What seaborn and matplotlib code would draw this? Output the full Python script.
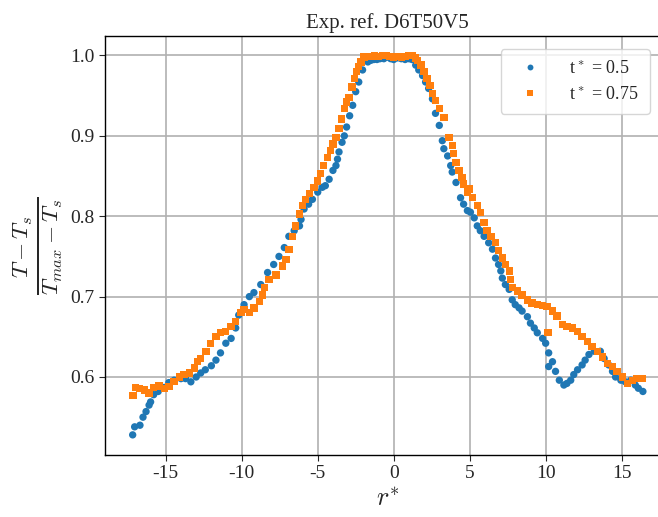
import numpy as np
import pandas as pd
import matplotlib
matplotlib.use("Agg")
import matplotlib.pyplot as plt
import seaborn as sns

# t* = 0.5 (blue circles)
r_05 = [-17.18, -17.05, -16.7, -16.5, -16.3, -16.1, -16.0, -15.8, -15.5, -15.1, -14.8, -14.45,
        -14.0, -13.7, -13.35, -13.0, -12.7, -12.4, -12.0, -11.7, -11.4, -11.05, -10.7, -10.4,
        -10.2, -9.85, -9.5, -9.2, -8.75, -8.3, -7.9, -7.55, -7.2, -6.9, -6.55, -6.2, -6.1,
        -5.9, -5.6, -5.35, -5.0, -4.7, -4.5, -4.25, -4.0, -3.8, -3.7, -3.6, -3.4, -3.25,
        -3.1, -2.9, -2.7, -2.5, -2.3, -2.05, -1.7, -1.5, -1.3, -1.1, -0.9, -0.65, -0.4,
        -0.2, 0.0, 0.25, 0.5, 0.75, 1.0, 1.2, 1.45, 1.65, 1.9, 2.1, 2.3, 2.55, 2.75, 3.0,
        3.2, 3.3, 3.55, 3.75, 3.85, 4.1, 4.4, 4.6, 4.85, 5.05, 5.3, 5.5, 5.7, 5.95, 6.25,
        6.5, 6.7, 6.9, 7.05, 7.15, 7.35, 7.6, 7.8, 8.0, 8.25, 8.45, 8.8, 9.0, 9.25, 9.45,
        9.8, 10.0, 10.2, 10.45, 10.2, 10.65, 10.9, 11.2, 11.4, 11.65, 11.85, 12.1, 12.4,
        12.6, 12.85, 13.2, 13.6, 13.85, 14.15, 14.4, 14.6, 14.95, 15.25, 15.6, 15.9, 16.1, 16.4]
v_05 = [0.528, 0.538, 0.540, 0.550, 0.557, 0.565, 0.569, 0.578, 0.582, 0.587, 0.593, 0.596,
        0.598, 0.598, 0.594, 0.600, 0.605, 0.609, 0.614, 0.621, 0.630, 0.642, 0.648, 0.661,
        0.677, 0.690, 0.700, 0.705, 0.715, 0.730, 0.740, 0.750, 0.761, 0.775, 0.782, 0.788, 0.796,
        0.809, 0.815, 0.821, 0.830, 0.836, 0.838, 0.846, 0.857, 0.863, 0.871, 0.880, 0.892, 0.900,
        0.911, 0.925, 0.938, 0.955, 0.967, 0.982, 0.992, 0.994, 0.995, 0.995, 0.996, 0.996, 0.998,
        0.996, 0.995, 0.997, 0.996, 0.995, 0.996, 0.995, 0.988, 0.982, 0.975, 0.967, 0.959, 0.946, 0.928, 0.913,
        0.894, 0.884, 0.875, 0.863, 0.855, 0.842, 0.823, 0.815, 0.807, 0.805, 0.798, 0.788, 0.782, 0.775, 0.767,
        0.759, 0.748, 0.740, 0.732, 0.723, 0.715, 0.709, 0.696, 0.690, 0.686, 0.682, 0.675, 0.667, 0.661, 0.655,
        0.648, 0.642, 0.630, 0.619, 0.613, 0.607, 0.596, 0.590, 0.592, 0.596, 0.603, 0.609, 0.615,
        0.621, 0.628, 0.632, 0.632, 0.623, 0.615, 0.607, 0.600, 0.596, 0.594, 0.596, 0.590, 0.586, 0.582]

# t* = 0.75 (orange squares)
r_075 = [-17.15, -17.0, -16.75, -16.4, -16.1, -15.8, -15.45, -15.1, -14.8, -14.45, -14.1, -13.8,
         -13.45, -13.1, -12.9, -12.7, -12.35, -12.05, -11.7, -11.4, -11.05, -10.7, -10.4, -10.05,
         -9.85, -9.5, -9.2, -8.85, -8.65, -8.5, -8.2, -7.75, -7.3, -7.1, -6.9, -6.65, -6.45,
         -6.2, -6.0, -5.8, -5.55, -5.25, -5.0, -4.8, -4.6, -4.35, -4.15, -4.0, -3.8, -3.6,
         -3.45, -3.25, -3.1, -2.95, -2.75, -2.6, -2.45, -2.3, -2.15, -1.95, -1.75, -1.5, -1.25,
         -1.0, -0.75, -0.5, -0.25, 0.0, 0.25, 0.5, 0.75, 1.0, 1.25, 1.45, 1.55, 1.8, 2.0, 2.2,
         2.4, 2.55, 2.75, 3.0, 3.3, 3.65, 3.85, 3.95, 4.1, 4.3, 4.5, 4.6, 4.85, 5.0, 5.2, 5.5,
         5.7, 5.95, 6.15, 6.4, 6.7, 6.9, 7.15, 7.35, 7.6, 7.7, 7.8, 8.15, 8.45, 8.8, 9.1, 9.45,
         9.8, 10.1, 10.15, 10.45, 10.75, 11.1, 11.4, 11.75, 12.1, 12.4, 12.75, 13.05, 13.4,
         13.75, 14.05, 14.4, 14.7, 15.05, 15.4, 15.7, 16.0, 16.35]
v_075 = [0.577, 0.587, 0.586, 0.584, 0.580, 0.587, 0.589, 0.586, 0.588, 0.594, 0.600, 0.603,
         0.605, 0.611, 0.619, 0.623, 0.632, 0.642, 0.650, 0.655, 0.657, 0.663, 0.669, 0.680,
         0.684, 0.680, 0.686, 0.694, 0.702, 0.711, 0.721, 0.727, 0.738, 0.746, 0.759, 0.775, 0.788,
         0.803, 0.813, 0.821, 0.828, 0.836, 0.844, 0.853, 0.863, 0.873, 0.882, 0.890, 0.898, 0.909,
         0.921, 0.934, 0.942, 0.948, 0.961, 0.971, 0.980, 0.986, 0.992, 0.998, 0.999, 0.999, 1.000,
         0.999, 1.000, 1.000, 0.999, 0.998, 0.999, 0.998, 0.999, 1.000, 1.000, 0.997, 0.994, 0.988, 0.980, 0.971,
         0.963, 0.953, 0.944, 0.934, 0.923, 0.898, 0.888, 0.878, 0.867, 0.857, 0.848, 0.840, 0.830, 0.834, 0.823, 0.813,
         0.805, 0.792, 0.782, 0.775, 0.767, 0.757, 0.748, 0.740, 0.732, 0.721, 0.711, 0.707, 0.702, 0.696, 0.692, 0.690,
         0.689, 0.688, 0.655, 0.682, 0.676, 0.665, 0.663, 0.661, 0.657, 0.650, 0.644, 0.638, 0.632,
         0.625, 0.617, 0.613, 0.607, 0.600, 0.592, 0.596, 0.598, 0.598]

labels = ["t$^*$ = 0.5", "t$^*$ = 0.75"]

df = pd.concat([
    pd.DataFrame({"r": r_05, "v": v_05, "series": labels[0]}),
    pd.DataFrame({"r": r_075, "v": v_075, "series": labels[1]}),
], ignore_index=True)

sns.set_style("ticks")
plt.rcParams["font.family"] = ["Liberation Serif", "DejaVu Serif"]
plt.rcParams["mathtext.fontset"] = "cm"

fig = plt.figure(figsize=(6.58, 5.17), dpi=100)
ax = fig.add_axes([0.1596, 0.12, 0.859, 0.810])

sns.scatterplot(data=df, x="r", y="v", hue="series", style="series",
                markers={labels[0]: "o", labels[1]: "s"},
                palette={labels[0]: "#1f77b4", labels[1]: "#ff7f0e"},
                s=28, linewidth=0, ax=ax, zorder=3)

ax.set_xlim(-19.0, 18.2)
ax.set_ylim(0.503, 1.024)
ax.set_xticks([-15, -10, -5, 0, 5, 10, 15])
ax.set_xticklabels(["-15", "-10", "-5", "0", "5", "10", "15"])
ax.set_yticks([0.6, 0.7, 0.8, 0.9, 1.0])
ax.tick_params(labelsize=14, direction="out", length=4)
ax.grid(True, color="#b0b0b0", linewidth=1.2)
ax.set_axisbelow(True)
for s in ax.spines.values():
    s.set_color("black")
    s.set_linewidth(1.0)

ax.set_title("Exp. ref. D6T50V5", fontsize=15)
ax.set_xlabel(r"$r^{*}$", fontsize=19)
ax.set_ylabel(r"$\frac{T - T_s}{T_{max} - T_s}$", fontsize=24)

leg = ax.legend(loc="upper right", bbox_to_anchor=(0.98, 0.99), fontsize=13,
                frameon=True, markerscale=0.8, handletextpad=1.2, borderpad=0.6)
leg.get_frame().set_edgecolor("#cccccc")
leg.set_title(None)

fig.savefig("out.png", dpi=100)
